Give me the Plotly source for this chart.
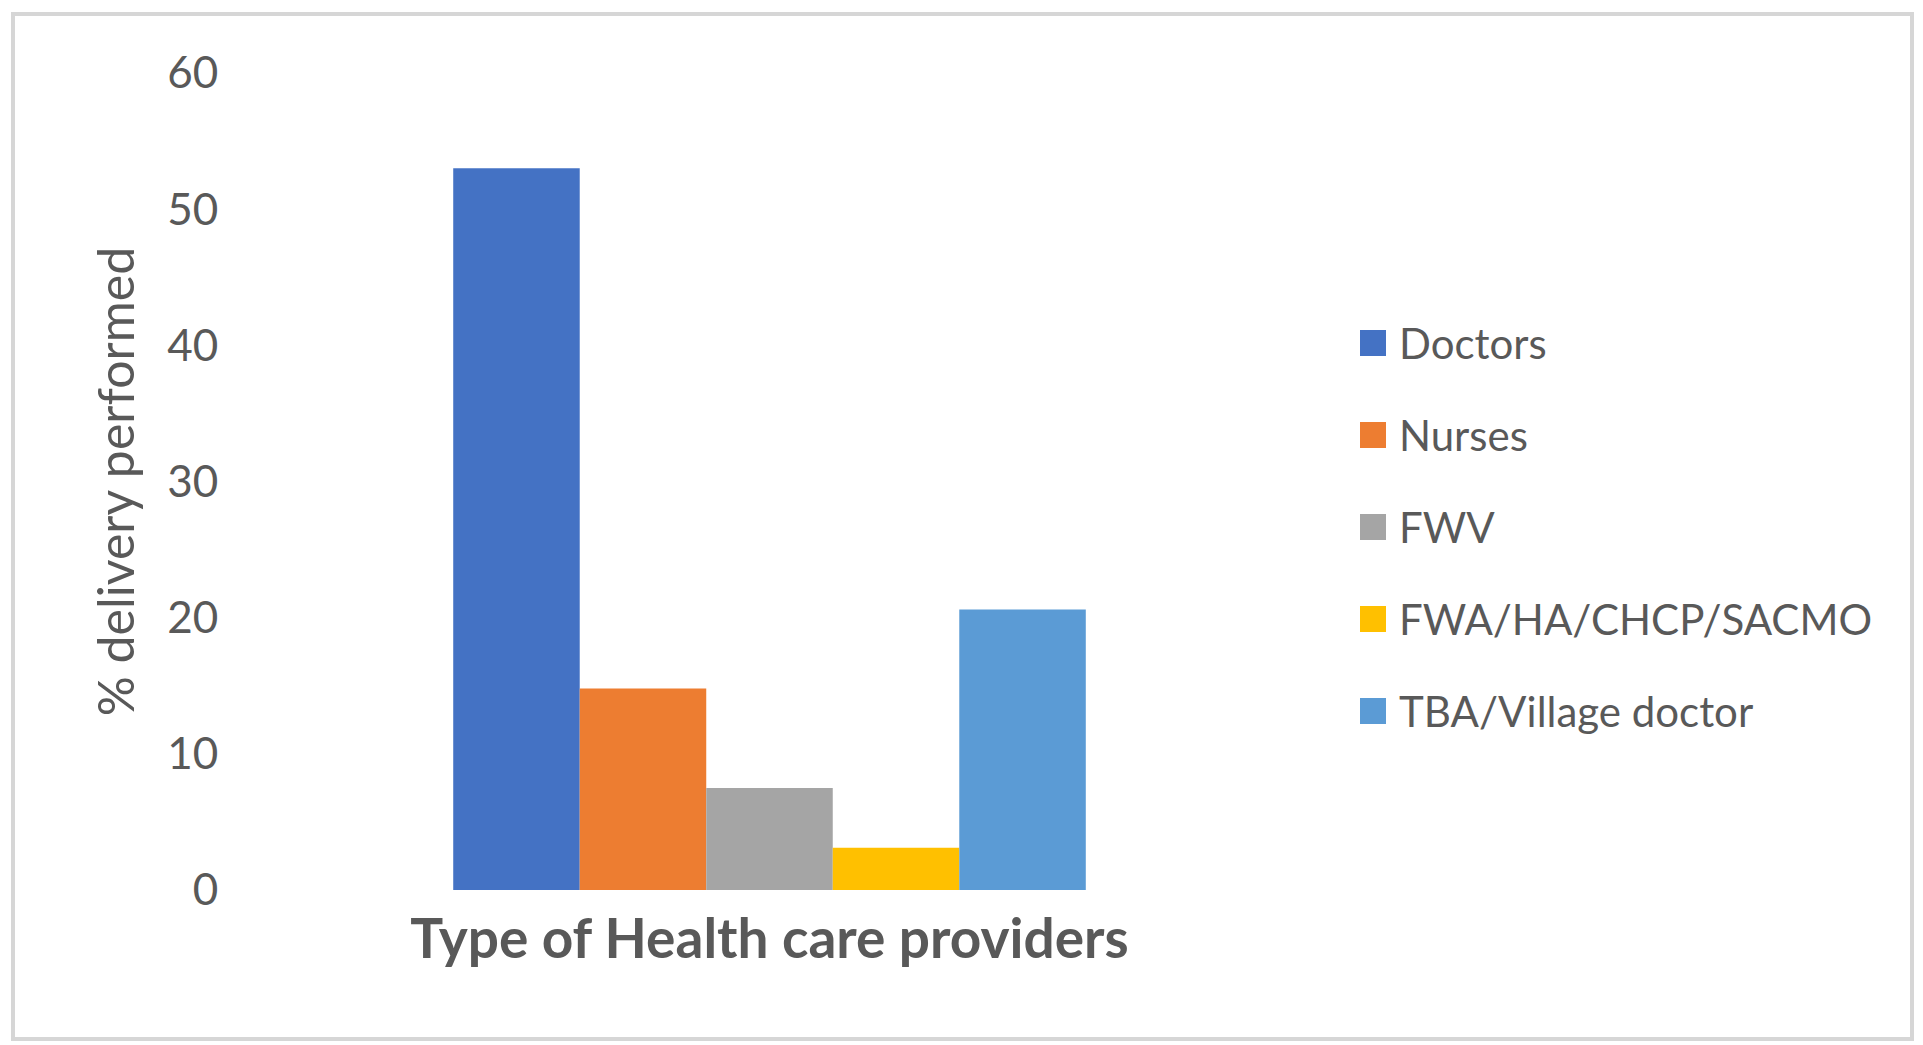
import plotly.graph_objects as go

# Data: share of deliveries performed by each type of provider
category = ["Type of Health care providers"]
providers = ["Doctors", "Nurses", "FWV", "FWA/HA/CHCP/SACMO", "TBA/Village doctor"]
delivery_pct = [53.0, 14.8, 7.5, 3.1, 20.6]
colors = ["#4472C4", "#ED7D31", "#A5A5A5", "#FFC000", "#5B9BD5"]
y_ticks = [0, 10, 20, 30, 40, 50, 60]

W, H = 1923, 1045
# plot-area edges in pixels
L, R, T, B = 251, 1288, 73, 890


def px_x(p):
    return (p - L) / (R - L)


def px_y(p):
    return (B - p) / (B - T)


TEXT = "#595959"
FONT = "Lato"

fig = go.Figure()
for name, val, col in zip(providers, delivery_pct, colors):
    fig.add_trace(go.Bar(
        x=category, y=[val], name=name,
        marker=dict(color=col, line=dict(width=0)),
        showlegend=False,
    ))

shapes = [
    # outer chart border
    dict(type="rect", xref="paper", yref="paper",
         x0=px_x(13), x1=px_x(1912), y0=px_y(1039), y1=px_y(14),
         line=dict(color="#D6D6D6", width=4), fillcolor="rgba(0,0,0,0)", layer="below"),
]
annotations = []

# legend: coloured squares with series names
for i, (name, col) in enumerate(zip(providers, colors)):
    yc = 343 + 92 * i
    shapes.append(dict(type="rect", xref="paper", yref="paper",
                       x0=px_x(1360), x1=px_x(1386), y0=px_y(yc + 13), y1=px_y(yc - 13),
                       fillcolor=col, line=dict(width=0)))
    annotations.append(dict(xref="paper", yref="paper", x=px_x(1397), y=px_y(yc),
                            xanchor="left", yanchor="middle", showarrow=False,
                            text=name, font=dict(family=FONT, size=42, color=TEXT)))

fig.update_layout(
    width=W, height=H,
    margin=dict(l=L, r=W - R, t=T, b=H - B, autoexpand=False),
    paper_bgcolor="white", plot_bgcolor="white",
    barmode="group", bargap=0.39, bargroupgap=0,
    shapes=shapes, annotations=annotations,
    showlegend=False,
    xaxis=dict(
        type="category", showticklabels=False, showline=False, showgrid=False,
        ticks="", zeroline=False,
        title=dict(text=category[0], standoff=29,
                   font=dict(family=FONT, size=55, color=TEXT, weight="bold")),
    ),
    yaxis=dict(
        range=[0, 60], tickvals=y_ticks, showgrid=False, zeroline=False, showline=False,
        ticks="outside", ticklen=23, tickcolor="rgba(0,0,0,0)",
        tickfont=dict(family=FONT, size=44, color=TEXT),
        title=dict(text="% delivery performed", standoff=16,
                   font=dict(family=FONT, size=50, color=TEXT)),
    ),
)

fig.write_html("out.html")
